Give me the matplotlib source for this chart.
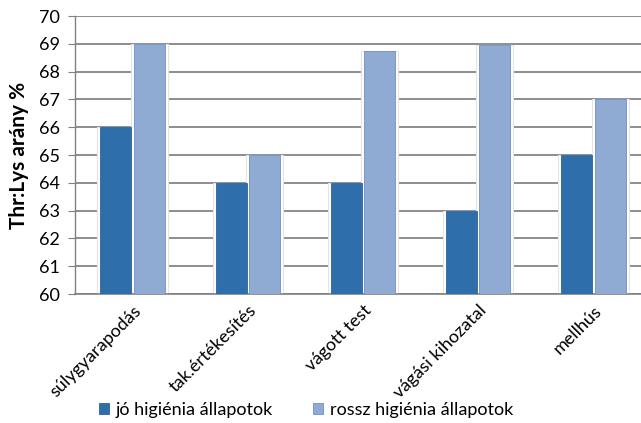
import matplotlib.pyplot as plt
import numpy as np

plt.rcParams['font.family'] = ['Lato', 'DejaVu Sans']

categories = ['súlygyarapodás', 'tak.értékesítés', 'vágott test', 'vágási kihozatal', 'mellhús']
good_hygiene = [66, 64, 64, 63, 65]
poor_hygiene = [69, 65, 68.75, 68.95, 67]
series_labels = ['jó higiénia állapotok', 'rossz higiénia állapotok']
y_ticks = list(range(60, 71))


def main():
    fig = plt.figure(figsize=(6.41, 4.23), dpi=100)
    # plot area runs past the right edge of the figure
    ax = fig.add_axes([75 / 641, 129 / 423, 576 / 641, 278 / 423])

    x = np.arange(len(categories))
    width = 0.27
    offset = 0.145
    colors = ['#2E6FAB', '#8FAAD3']
    edges = ['#2A64A0', '#6F90C4']

    for i, (vals, col, edge, lab) in enumerate(zip([good_hygiene, poor_hygiene], colors, edges, series_labels)):
        pos = x + (-offset if i == 0 else offset)
        # white halo breaks the gridlines around each bar
        ax.bar(pos, [v - 60 for v in vals], width + 0.05, bottom=60,
               color='white', edgecolor='#E4E4E4', linewidth=0.8, zorder=2)
        ax.bar(pos, [v - 60 for v in vals], width, bottom=60,
               color=col, edgecolor=edge, linewidth=0.6, zorder=3, label=lab)

    ax.set_xlim(-0.5, 4.5)
    ax.set_ylim(60, 70)
    ax.set_yticks(y_ticks)
    ax.tick_params(axis='y', labelsize=13, length=5, color='#808080', pad=6)
    ax.grid(axis='y', color='#6F6F6F', linewidth=1.1, zorder=1)
    ax.set_axisbelow(True)

    ax.set_xticks(x)
    ax.set_xticklabels(categories, rotation=45, ha='right', va='top',
                       rotation_mode='anchor', fontsize=13)
    ax.tick_params(axis='x', length=0, pad=6)

    for side in ['top', 'right']:
        ax.spines[side].set_visible(False)
    ax.spines['left'].set_color('#808080')
    ax.spines['bottom'].set_color('#808080')
    ax.spines['left'].set_linewidth(1.0)
    ax.spines['bottom'].set_linewidth(1.2)

    ax.set_ylabel('Thr:Lys arány %', fontsize=15, fontweight='bold', labelpad=7)

    handles, labels = ax.get_legend_handles_labels()
    fig.legend(handles, labels, loc='center', bbox_to_anchor=(306 / 641, 1 - 410 / 423),
               ncol=2, frameon=False, fontsize=13, handlelength=0.55, handleheight=0.55,
               handletextpad=0.4, columnspacing=2.2)

    fig.savefig('out.png', dpi=100)
    plt.close(fig)


if __name__ == '__main__':
    main()
